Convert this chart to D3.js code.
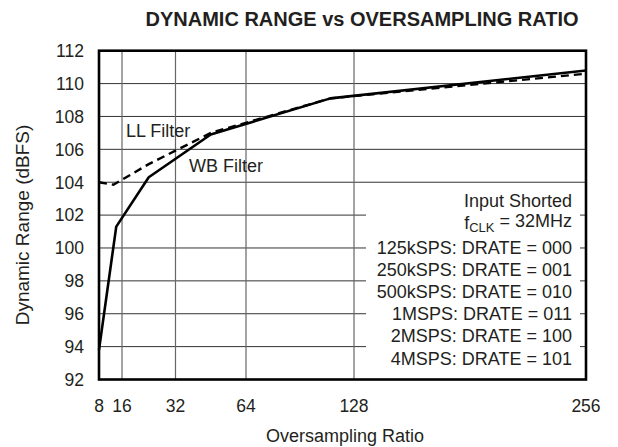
<!DOCTYPE html>
<html>
<head>
<meta charset="utf-8">
<script src="https://cdn.jsdelivr.net/npm/d3@7"></script>
<style>
  body { margin: 0; background: #fff; }
  text { font-family: "Liberation Sans", Arial, sans-serif; fill: #231f20; }
</style>
</head>
<body>
<script>
// data
var xTicks = [8, 16, 32, 64, 128, 256];
var yTicks = [92, 94, 96, 98, 100, 102, 104, 106, 108, 110, 112];

var wbOsr = [8, 14, 24, 48, 114, 256];
var wbDr = [93.8, 101.3, 104.3, 106.9, 109.1, 110.8];

var llOsr = [8, 13, 24, 48, 114, 256];
var llDr = [104.0, 103.85, 105.1, 107.0, 109.1, 110.6];

var legendLines = ["Input Shorted", "fCLK = 32MHz", "125kSPS: DRATE = 000", "250kSPS: DRATE = 001",
  "500kSPS: DRATE = 010", "1MSPS: DRATE = 011", "2MSPS: DRATE = 100", "4MSPS: DRATE = 101"];

// layout
var W = 618, H = 447;
var plot = {left: 99, top: 50.7, right: 586, bottom: 379.5};

var svg = d3.select("body").append("svg")
  .attr("width", W)
  .attr("height", H);

// x axis is not linear in the original, so piecewise scale through the grid positions
var x = d3.scaleLinear()
  .domain(xTicks)
  .range([0, 23, 76.5, 147, 255, 487].map(function(d) { return plot.left + d; }));

var y = d3.scaleLinear()
  .domain([92, 112])
  .range([plot.bottom, plot.top]);

// grid
svg.append("g").selectAll("line").data(yTicks.slice(1, -1))
  .enter().append("line")
  .attr("x1", plot.left).attr("x2", plot.right)
  .attr("y1", function(d) { return y(d); })
  .attr("y2", function(d) { return y(d); })
  .attr("stroke", "#333").attr("stroke-width", 1);

svg.append("g").selectAll("line").data(xTicks.slice(1, -1))
  .enter().append("line")
  .attr("x1", function(d) { return x(d); })
  .attr("x2", function(d) { return x(d); })
  .attr("y1", plot.top).attr("y2", plot.bottom)
  .attr("stroke", "#666").attr("stroke-width", 1.2);

// legend box knocks out the grid
svg.append("rect")
  .attr("x", 366).attr("y", 193)
  .attr("width", 214).attr("height", 184)
  .attr("fill", "#fff");

// curves
var line = d3.line()
  .x(function(d) { return x(d[0]); })
  .y(function(d) { return y(d[1]); });

svg.append("path")
  .datum(d3.zip(llOsr, llDr))
  .attr("d", line)
  .attr("fill", "none")
  .attr("stroke", "#000")
  .attr("stroke-width", 2.4)
  .attr("stroke-dasharray", "8,5");

svg.append("path")
  .datum(d3.zip(wbOsr, wbDr))
  .attr("d", line)
  .attr("fill", "none")
  .attr("stroke", "#000")
  .attr("stroke-width", 2.6)
  .attr("stroke-linejoin", "round");

// frame
svg.append("rect")
  .attr("x", plot.left).attr("y", plot.top)
  .attr("width", plot.right - plot.left)
  .attr("height", plot.bottom - plot.top)
  .attr("fill", "none")
  .attr("stroke", "#000")
  .attr("stroke-width", 2.6);

// tick labels
svg.append("g").selectAll("text").data(yTicks)
  .enter().append("text")
  .attr("x", 84)
  .attr("y", function(d) { return y(d); })
  .attr("dy", "0.36em")
  .attr("text-anchor", "end")
  .style("font-size", "17.5px")
  .text(function(d) { return d; });

svg.append("g").selectAll("text").data(xTicks)
  .enter().append("text")
  .attr("x", function(d) { return x(d); })
  .attr("y", 412)
  .attr("text-anchor", "middle")
  .style("font-size", "17.5px")
  .text(function(d) { return d; });

// titles
svg.append("text")
  .attr("x", 362).attr("y", 26)
  .attr("text-anchor", "middle")
  .style("font-size", "20px")
  .style("font-weight", "bold")
  .text("DYNAMIC RANGE vs OVERSAMPLING RATIO");

svg.append("text")
  .attr("x", 345).attr("y", 442)
  .attr("text-anchor", "middle")
  .style("font-size", "18px")
  .text("Oversampling Ratio");

svg.append("text")
  .attr("transform", "translate(29,225) rotate(-90)")
  .attr("text-anchor", "middle")
  .style("font-size", "19px")
  .text("Dynamic Range (dBFS)");

// curve labels
svg.append("text")
  .attr("x", 126).attr("y", 137)
  .style("font-size", "18px")
  .text("LL Filter");

svg.append("text")
  .attr("x", 189).attr("y", 172)
  .style("font-size", "18px")
  .text("WB Filter");

// conditions text
var leg = svg.append("g").selectAll("text").data(legendLines)
  .enter().append("text")
  .attr("x", 572)
  .attr("y", function(d, i) { return i < 2 ? 206.5 + i * 22 : 254 + (i - 2) * 22.1; })
  .attr("text-anchor", "end")
  .style("font-size", "18px");

leg.each(function(d) {
  var t = d3.select(this);
  if (d.indexOf("fCLK") === 0) {
    t.append("tspan").text("f");
    t.append("tspan").attr("dy", "0.3em").style("font-size", "13px").text("CLK");
    t.append("tspan").attr("dy", "-0.3em").text(" = 32MHz");
  } else {
    t.text(d);
  }
});
</script>
</body>
</html>
